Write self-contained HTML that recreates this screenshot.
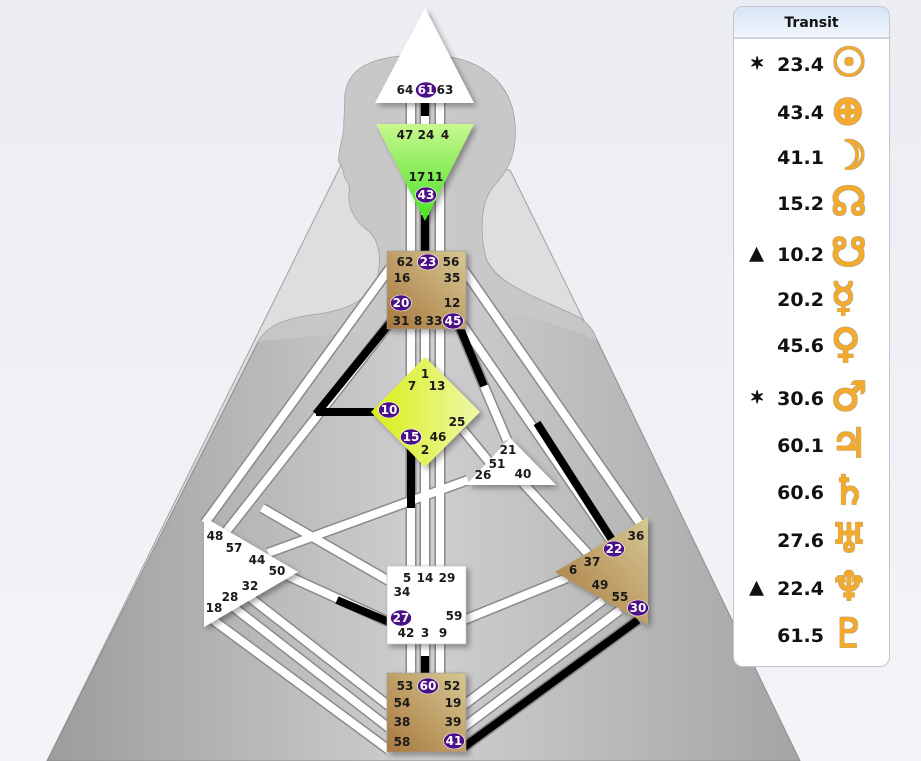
<!DOCTYPE html>
<html><head><meta charset="utf-8"><style>
html,body{margin:0;padding:0;width:921px;height:761px;overflow:hidden;background:linear-gradient(#ecedf2,#f3f4f8);}
svg{position:absolute;left:0;top:0}
.t{font-family:"DejaVu Sans","Liberation Sans",sans-serif;font-weight:bold;font-size:12px;fill:#1a1a1a;text-anchor:middle;dominant-baseline:central}
.c{fill:#fff}
#panel{position:absolute;left:733px;top:6px;width:157px;height:661px;background:#fff;border:1px solid #c4c6cc;border-radius:10px;box-sizing:border-box;overflow:hidden}
#hd{height:30px;background:linear-gradient(#d6e4f8,#f2f6fc);border-bottom:2px solid #d0d4da;font:bold 14px "DejaVu Sans","Liberation Sans",sans-serif;text-align:center;line-height:32px;color:#111}
.r{position:absolute;left:0;width:156px;height:40px;font:bold 19px "DejaVu Sans","Liberation Sans",sans-serif;color:#111}
.r .m{position:absolute;left:16px;top:9px;font-size:17px;-webkit-text-stroke:1.2px #111}
.r .n{position:absolute;right:66px;top:9px}
.r .g{position:absolute;left:97px;top:-5px;font:bold 40px "DejaVu Sans",sans-serif;color:#f4ac2c;-webkit-text-stroke:1.5px #f2a82a;text-shadow:1px 1px 0 #aaa,-1px -1px 0 #aaa,1px -1px 0 #aaa,-1px 1px 0 #aaa}
</style></head><body>
<svg width="921" height="761" viewBox="0 0 921 761">
<defs>
<linearGradient id="body" x1="0" x2="1" y1="0" y2="0"><stop offset="0" stop-color="#9c9c9c"/><stop offset="0.5" stop-color="#cfcfcf"/><stop offset="1" stop-color="#a4a4a4"/></linearGradient>
<linearGradient id="brown" x1="0" y1="1" x2="1" y2="0"><stop offset="0" stop-color="#a8773e"/><stop offset="1" stop-color="#d6c893"/></linearGradient>
<linearGradient id="green" x1="0" y1="0" x2="0" y2="1"><stop offset="0" stop-color="#c8f890"/><stop offset="1" stop-color="#48e020"/></linearGradient>
<linearGradient id="yellow" x1="0" y1="0" x2="1" y2="0"><stop offset="0" stop-color="#d8ee18"/><stop offset="1" stop-color="#eef8a8"/></linearGradient>
<filter id="sh" x="-20%" y="-20%" width="140%" height="140%"><feDropShadow dx="3" dy="3" stdDeviation="3" flood-color="#000" flood-opacity="0.35"/></filter>
</defs>
<polygon points="341,165 510,170 800,761 47,761" fill="#dedede" stroke="#a0a0a0" stroke-width="1"/>
<path d="M345,95 C348,62 385,55 425,55 C475,55 512,78 515,125 C517,160 505,172 492,188 C480,205 480,232 485,255 C492,285 545,300 580,318 C590,325 594,332 597,340 L800,761 L47,761 L258,342 C268,325 285,318 320,314 C345,310 372,300 378,275 C382,255 378,240 370,232 C360,225 352,215 350,205 C347,195 352,190 348,182 C342,178 346,170 339,162 C338,150 343,140 344,128 C344,115 345,105 345,95 Z" fill="url(#body)" stroke="#8e8e8e" stroke-width="1"/>
<path d="M345,95 C348,62 385,55 425,55 C475,55 512,78 515,125 C517,160 505,172 492,188 C480,205 480,232 485,255 C492,285 545,300 580,318 C590,325 594,332 597,340 C520,310 470,300 420,320 C380,335 300,335 258,342 C268,325 285,318 320,314 C345,310 372,300 378,275 C382,255 378,240 370,232 C360,225 352,215 350,205 C347,195 352,190 348,182 C342,178 346,170 339,162 C338,150 343,140 344,128 C344,115 345,105 345,95 Z" fill="#c8c8c8" opacity="0.85"/>
<g stroke-linecap="butt" fill="none">
<g stroke="#8a8a8a" stroke-width="11">
<path d="M411,100V130 M425,100V130 M440,100V130 M411,160V255 M425,210V255 M440,160V255 M411,325V380 M425,325V365 M440,325V380 M411,440V570 M425,460V570 M440,440V570 M411,640V676 M425,640V676 M440,640V676"/>
<path d="M390,268L205,523 M394,318L222,537 M262,508L389,581 M268,553L468,480 M288,576L389,622 M248,596L389,706 M232,606L389,728 M213,620L389,750"/>
<path d="M464,270L641,525 M458,318L614,545 M460,328L484,386L507,440 M463,430L490,463 M523,483L590,556 M464,620L567,578 M464,705L603,600 M464,727L620,610 M464,747L638,620"/>
</g>
<g stroke="#fff" stroke-width="8">
<path d="M411,100V130 M425,100V130 M440,100V130 M411,160V255 M425,210V255 M440,160V255 M411,325V380 M425,325V365 M440,325V380 M411,440V570 M425,460V570 M440,440V570 M411,640V676 M425,640V676 M440,640V676"/>
<path d="M390,268L205,523 M394,318L222,537 M262,508L389,581 M268,553L468,480 M288,576L389,622 M248,596L389,706 M232,606L389,728 M213,620L389,750"/>
<path d="M464,270L641,525 M458,318L614,545 M460,328L484,386L507,440 M463,430L490,463 M523,483L590,556 M464,620L567,578 M464,705L603,600 M464,727L620,610 M464,747L638,620"/>
</g>
<g stroke="#000" stroke-width="8">
<path d="M425,103V116 M425,215V253 M394,318L316,414 M316,412H374 M411,445V508 M425,656V674 M337,600L389,622 M537,423L614,543 M460,328L484,386 M464,747L638,620"/>
</g>
</g>
<g filter="url(#sh)">
<polygon points="425,8 375,103 474,103" fill="#fff"/>
<polygon points="376,124 474,124 425,221" fill="url(#green)"/>
<rect x="387" y="251" width="79" height="78" fill="url(#brown)" stroke="#999" stroke-width="0.6"/>
<polygon points="425,357 480,412 425,467 371,412" fill="url(#yellow)"/>
<polygon points="510,438 556,485 466,485" fill="#fff"/>
<polygon points="204,517 298,572 204,627" fill="#fff"/>
<rect x="387" y="566" width="79" height="78" fill="#fff" stroke="#bbb" stroke-width="0.6"/>
<rect x="387" y="673" width="79" height="79" fill="url(#brown)" stroke="#999" stroke-width="0.6"/>
<polygon points="555,572 648,517 648,625" fill="url(#brown)"/>
</g>
<g fill="#4b0f86" stroke="#fff" stroke-width="0.6">
<ellipse cx="426" cy="90" rx="10.5" ry="8"/><ellipse cx="426" cy="195" rx="10.5" ry="8"/>
<ellipse cx="428" cy="262" rx="10.5" ry="8"/><ellipse cx="401" cy="303" rx="10.5" ry="8"/><ellipse cx="453" cy="321" rx="10.5" ry="8"/>
<ellipse cx="389" cy="410" rx="10.5" ry="8"/><ellipse cx="411" cy="437" rx="10.5" ry="8"/>
<ellipse cx="401" cy="618" rx="10.5" ry="8"/><ellipse cx="428" cy="686" rx="10.5" ry="8"/><ellipse cx="454" cy="741" rx="10.5" ry="8"/>
<ellipse cx="614" cy="549" rx="10.5" ry="8"/><ellipse cx="638" cy="608" rx="10.5" ry="8"/>
</g>
<g class="t">
<text x="405" y="90">64</text><text x="426" y="90" class="c">61</text><text x="445" y="90">63</text>
<text x="405" y="135">47</text><text x="426" y="135">24</text><text x="445" y="135">4</text>
<text x="417" y="177">17</text><text x="435" y="177">11</text><text x="426" y="195" class="c">43</text>
<text x="405" y="262">62</text><text x="428" y="262" class="c">23</text><text x="451" y="262">56</text>
<text x="402" y="278">16</text><text x="452" y="278">35</text>
<text x="401" y="303" class="c">20</text><text x="452" y="303">12</text>
<text x="401" y="321">31</text><text x="418" y="321">8</text><text x="434" y="321">33</text><text x="453" y="321" class="c">45</text>
<text x="425" y="374">1</text><text x="412" y="386">7</text><text x="437" y="386">13</text>
<text x="389" y="410" class="c">10</text><text x="457" y="422">25</text>
<text x="411" y="437" class="c">15</text><text x="438" y="437">46</text><text x="425" y="450">2</text>
<text x="508" y="450">21</text><text x="497" y="464">51</text><text x="483" y="475">26</text><text x="523" y="474">40</text>
<text x="215" y="536">48</text><text x="234" y="548">57</text><text x="257" y="560">44</text><text x="277" y="571">50</text>
<text x="250" y="586">32</text><text x="230" y="597">28</text><text x="214" y="608">18</text>
<text x="407" y="578">5</text><text x="425" y="578">14</text><text x="447" y="578">29</text>
<text x="402" y="592">34</text><text x="401" y="618" class="c">27</text><text x="454" y="616">59</text>
<text x="406" y="633">42</text><text x="425" y="633">3</text><text x="443" y="633">9</text>
<text x="405" y="686">53</text><text x="428" y="686" class="c">60</text><text x="452" y="686">52</text>
<text x="402" y="703">54</text><text x="453" y="703">19</text>
<text x="402" y="722">38</text><text x="453" y="722">39</text>
<text x="402" y="742">58</text><text x="454" y="741" class="c">41</text>
<text x="636" y="536">36</text><text x="614" y="549" class="c">22</text><text x="592" y="562">37</text><text x="573" y="570">6</text>
<text x="600" y="585">49</text><text x="620" y="597">55</text><text x="638" y="608" class="c">30</text>
</g>
</svg>
<div id="panel"><div id="hd">Transit</div>
<div class="r" style="top:38px"><span class="m">✶</span><span class="n">23.4</span><span class="g">☉</span></div>
<div class="r" style="top:86px"><span class="n">43.4</span><span class="g">⊕</span></div>
<div class="r" style="top:131px"><span class="n">41.1</span><span class="g">☽</span></div>
<div class="r" style="top:177px"><span class="n">15.2</span><span class="g">☊</span></div>
<div class="r" style="top:228px"><span class="m">▲</span><span class="n">10.2</span><span class="g">☋</span></div>
<div class="r" style="top:273px"><span class="n">20.2</span><span class="g">☿</span></div>
<div class="r" style="top:319px"><span class="n">45.6</span><span class="g">♀</span></div>
<div class="r" style="top:372px"><span class="m">✶</span><span class="n">30.6</span><span class="g">♂</span></div>
<div class="r" style="top:419px"><span class="n">60.1</span><span class="g">♃</span></div>
<div class="r" style="top:466px"><span class="n">60.6</span><span class="g">♄</span></div>
<div class="r" style="top:514px"><span class="n">27.6</span><span class="g">♅</span></div>
<div class="r" style="top:562px"><span class="m">▲</span><span class="n">22.4</span><span class="g">♆</span></div>
<div class="r" style="top:609px"><span class="n">61.5</span><span class="g">♇</span></div>
</div>
</body></html>
